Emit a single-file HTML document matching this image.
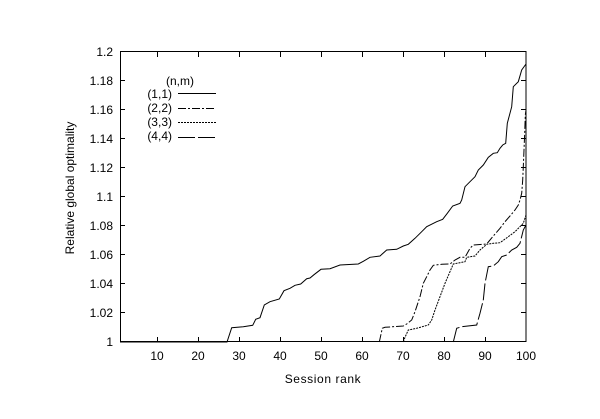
<!DOCTYPE html>
<html>
<head>
<meta charset="utf-8">
<style>
html,body{margin:0;padding:0;background:#fff;}
svg{display:block;}
text{font-family:"Liberation Sans",Arial,sans-serif;font-size:12px;fill:#000;}
</style>
</head>
<body>
<svg width="600" height="419" viewBox="0 0 600 419" xmlns="http://www.w3.org/2000/svg">
<rect x="0" y="0" width="600" height="419" fill="#fff"/>
<!-- frame -->
<rect x="120.5" y="51.5" width="405.5" height="290" fill="none" stroke="#000" stroke-width="1"/>
<!-- ticks -->
<g stroke="#000" stroke-width="1">
<path d="M120 341.5h5M526 341.5h-5
M120 312.5h5M526 312.5h-5
M120 283.5h5M526 283.5h-5
M120 254.5h5M526 254.5h-5
M120 225.5h5M526 225.5h-5
M120 196.5h5M526 196.5h-5
M120 167.5h5M526 167.5h-5
M120 138.5h5M526 138.5h-5
M120 109.5h5M526 109.5h-5
M120 80.5h5M526 80.5h-5
M120 51.5h5M526 51.5h-5"/>
<path d="M157.5 342v-5M157.5 52v5
M198.5 342v-5M198.5 52v5
M239.5 342v-5M239.5 52v5
M280.5 342v-5M280.5 52v5
M321.5 342v-5M321.5 52v5
M362.5 342v-5M362.5 52v5
M403.5 342v-5M403.5 52v5
M444.5 342v-5M444.5 52v5
M485.5 342v-5M485.5 52v5"/>
</g>
<!-- y tick labels -->
<g text-anchor="end">
<text x="113" y="346">1</text>
<text x="113" y="317">1.02</text>
<text x="113" y="288">1.04</text>
<text x="113" y="259">1.06</text>
<text x="113" y="230">1.08</text>
<text x="113" y="201">1.1</text>
<text x="113" y="172">1.12</text>
<text x="113" y="143">1.14</text>
<text x="113" y="114">1.16</text>
<text x="113" y="85">1.18</text>
<text x="113" y="56">1.2</text>
</g>
<!-- x tick labels -->
<g text-anchor="middle">
<text x="157" y="360">10</text>
<text x="198" y="360">20</text>
<text x="239" y="360">30</text>
<text x="280" y="360">40</text>
<text x="321" y="360">50</text>
<text x="362" y="360">60</text>
<text x="403" y="360">70</text>
<text x="444" y="360">80</text>
<text x="485" y="360">90</text>
<text x="526" y="360">100</text>
</g>
<text x="323" y="383" text-anchor="middle" letter-spacing="0.6">Session rank</text>
<text transform="translate(74,188) rotate(-90)" text-anchor="middle">Relative global optimality</text>
<!-- legend -->
<text x="166" y="85">(n,m)</text>
<g text-anchor="end">
<text x="172" y="98">(1,1)</text>
<text x="172" y="112">(2,2)</text>
<text x="172" y="126">(3,3)</text>
<text x="172" y="140">(4,4)</text>
</g>
<g fill="none" stroke="#000" stroke-width="1">
<path d="M178 93.5H216"/>
<path d="M178 108.5H216" stroke-dasharray="8,2,2,2"/>
<path d="M178 122.5H216" stroke-dasharray="2,1"/>
<path d="M178 137.5H216" stroke-dasharray="17,3"/>
<!-- (1,1) -->
<polyline points="120,342 227,342 231.7,327.7 243.3,326.7 252.7,325.3 255.7,319.3 260,317.7 264.3,305 270,301.7 279.3,299 284,290.7 290,288.3 295,285.3 300.7,284 306.7,278.7 310,278 314,274.7 321,269.3 330,268.7 340,265 358.3,264 363.3,261.3 370,257.3 380,256 386.7,250 396.7,249.3 403.3,246 408.3,244.3 415,238.3 421.7,231.7 426.7,226.7 436.7,221.7 442.7,219.3 447.3,213.3 452.7,206 460,203.3 461.7,200 465,186.7 470,181.7 475,176.7 478.3,170 483.3,165 488.3,157.3 493.3,153.3 497.3,152.7 500,148.3 502.7,145 505.7,143.3 507.3,123.3 511.7,106.7 513.3,86.7 518.3,81.7 521.7,70 526,64"/>
<!-- (2,2) -->
<polyline stroke-dasharray="8,2,2,2" points="379.3,342 382.3,328.3 385,327.3 403.3,326 406.7,324 411.7,320 415,311.7 420,296.7 423.3,283.3 426.7,276.7 430,270 433.3,265.3 441.7,264.3 450,264 455,260 460,257.3 465,257.3 470,248.3 473.3,245 483.3,244.3 486.7,244 493.3,236 500,228.3 505,221.7 510,216 515,210 518.3,205 520,200 521.7,193.3 522.7,180 523.3,166.7 524,150 524.7,133 525.3,115 526,110"/>
<!-- (3,3) -->
<polyline stroke-dasharray="2,1" points="403.3,342 405,337.3 408.3,330 416.7,328.3 428.3,325 431.7,320 435,310 440,296.7 445,283.3 450,271.7 453.3,264 465,261.7 466.7,257.3 475,256 480,250 486.7,244.3 493.3,243.3 500,242.7 508.3,236.7 515,231.7 523.3,223.3 526,215"/>
<!-- (4,4) -->
<polyline stroke-dasharray="17,3" points="453.3,342 456.7,328.3 461.7,326.7 476.7,325 480,313.3 483.3,300 485,283.3 488.3,266.7 493.3,266 498.3,261.7 501.7,256.7 506.7,255 511.7,250 516.7,247.3 520,243.3 523.3,230 526,225"/>
</g>
</svg>
</body>
</html>
